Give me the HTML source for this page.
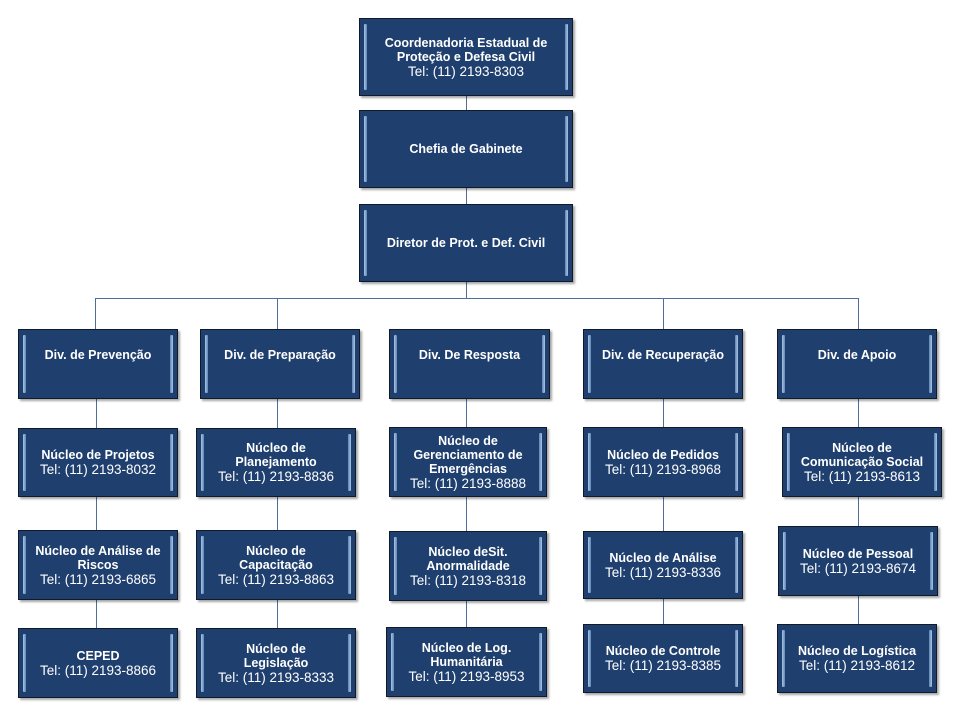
<!DOCTYPE html>
<html><head><meta charset="utf-8">
<style>
html,body{margin:0;padding:0;background:#fff;width:960px;height:720px;overflow:hidden;position:relative;font-family:"Liberation Sans",Arial,sans-serif;}
.b{position:absolute;box-sizing:border-box;background:#1f3f6e;border:1px solid #111a28;box-shadow:2px 2px 2px rgba(0,0,0,0.35);color:#fff;text-align:center;display:flex;align-items:center;justify-content:center;flex-direction:column;font-size:12.5px;line-height:14px;}
.b::before,.b::after{content:"";position:absolute;top:5px;bottom:5px;width:3px;background:linear-gradient(to right,#a9c4e4,#5f86b8);border-radius:1px;}
.b::before{left:4px}.b::after{right:4px;background:linear-gradient(to left,#a9c4e4,#5f86b8);}
.b b{font-weight:bold;font-size:12.5px}
.b span{font-size:13.5px;line-height:15px}
.top{justify-content:flex-start;padding-top:18px}
.l{position:absolute;background:#4f6f98;}
</style></head><body>
<!-- connectors -->
<div class="l" style="left:466px;top:96px;width:1px;height:203px"></div>
<div class="l" style="left:95px;top:298px;width:764px;height:1px"></div>
<div class="l" style="left:95px;top:298px;width:1px;height:31px"></div>
<div class="l" style="left:277px;top:298px;width:1px;height:31px"></div>
<div class="l" style="left:663px;top:298px;width:1px;height:31px"></div>
<div class="l" style="left:858px;top:298px;width:1px;height:31px"></div>
<div class="l" style="left:96px;top:398px;width:1px;height:230px"></div>
<div class="l" style="left:277px;top:398px;width:1px;height:230px"></div>
<div class="l" style="left:466px;top:398px;width:1px;height:230px"></div>
<div class="l" style="left:663px;top:398px;width:1px;height:228px"></div>
<div class="l" style="left:858px;top:398px;width:1px;height:228px"></div>

<div class="b" style="left:359px;top:18px;width:214px;height:78px"><b>Coordenadoria Estadual de<br>Proteção e Defesa Civil</b><span>Tel: (11) 2193-8303</span></div>
<div class="b" style="left:359px;top:110px;width:214px;height:78px"><b>Chefia de Gabinete</b></div>
<div class="b" style="left:359px;top:204px;width:214px;height:78px"><b>Diretor de Prot. e Def. Civil</b></div>

<div class="b top" style="left:18px;top:329px;width:160px;height:70px"><b>Div. de Prevenção</b></div>
<div class="b top" style="left:200px;top:329px;width:160px;height:70px"><b>Div. de Preparação</b></div>
<div class="b top" style="left:389px;top:329px;width:161px;height:70px"><b>Div. De Resposta</b></div>
<div class="b top" style="left:583px;top:329px;width:160px;height:70px"><b>Div. de Recuperação</b></div>
<div class="b top" style="left:777px;top:329px;width:160px;height:70px"><b>Div. de Apoio</b></div>

<div class="b" style="left:18px;top:428px;width:160px;height:69px"><b>Núcleo de Projetos</b><span>Tel: (11) 2193-8032</span></div>
<div class="b" style="left:196px;top:428px;width:160px;height:69px"><b>Núcleo de<br>Planejamento</b><span>Tel: (11) 2193-8836</span></div>
<div class="b" style="left:389px;top:427px;width:158px;height:70px"><b>Núcleo de<br>Gerenciamento de<br>Emergências</b><span>Tel: (11) 2193-8888</span></div>
<div class="b" style="left:583px;top:427px;width:160px;height:70px"><b>Núcleo de Pedidos</b><span>Tel: (11) 2193-8968</span></div>
<div class="b" style="left:782px;top:427px;width:160px;height:70px"><b>Núcleo de<br>Comunicação Social</b><span>Tel: (11) 2193-8613</span></div>

<div class="b" style="left:18px;top:530px;width:160px;height:70px"><b>Núcleo de Análise de<br>Riscos</b><span>Tel: (11) 2193-6865</span></div>
<div class="b" style="left:196px;top:530px;width:160px;height:70px"><b>Núcleo de<br>Capacitação</b><span>Tel: (11) 2193-8863</span></div>
<div class="b" style="left:389px;top:531px;width:158px;height:70px"><b>Núcleo deSit.<br>Anormalidade</b><span>Tel: (11) 2193-8318</span></div>
<div class="b" style="left:583px;top:531px;width:160px;height:68px"><b>Núcleo de Análise</b><span>Tel: (11) 2193-8336</span></div>
<div class="b" style="left:778px;top:526px;width:160px;height:70px"><b>Núcleo de Pessoal</b><span>Tel: (11) 2193-8674</span></div>

<div class="b" style="left:18px;top:628px;width:160px;height:70px"><b>CEPED</b><span>Tel: (11) 2193-8866</span></div>
<div class="b" style="left:196px;top:628px;width:160px;height:70px"><b>Núcleo de<br>Legislação</b><span>Tel: (11) 2193-8333</span></div>
<div class="b" style="left:386px;top:627px;width:161px;height:70px"><b>Núcleo de Log.<br>Humanitária</b><span>Tel: (11) 2193-8953</span></div>
<div class="b" style="left:583px;top:624px;width:160px;height:69px"><b>Núcleo de Controle</b><span>Tel: (11) 2193-8385</span></div>
<div class="b" style="left:777px;top:624px;width:160px;height:69px"><b>Núcleo de Logística</b><span>Tel: (11) 2193-8612</span></div>
</body></html>
